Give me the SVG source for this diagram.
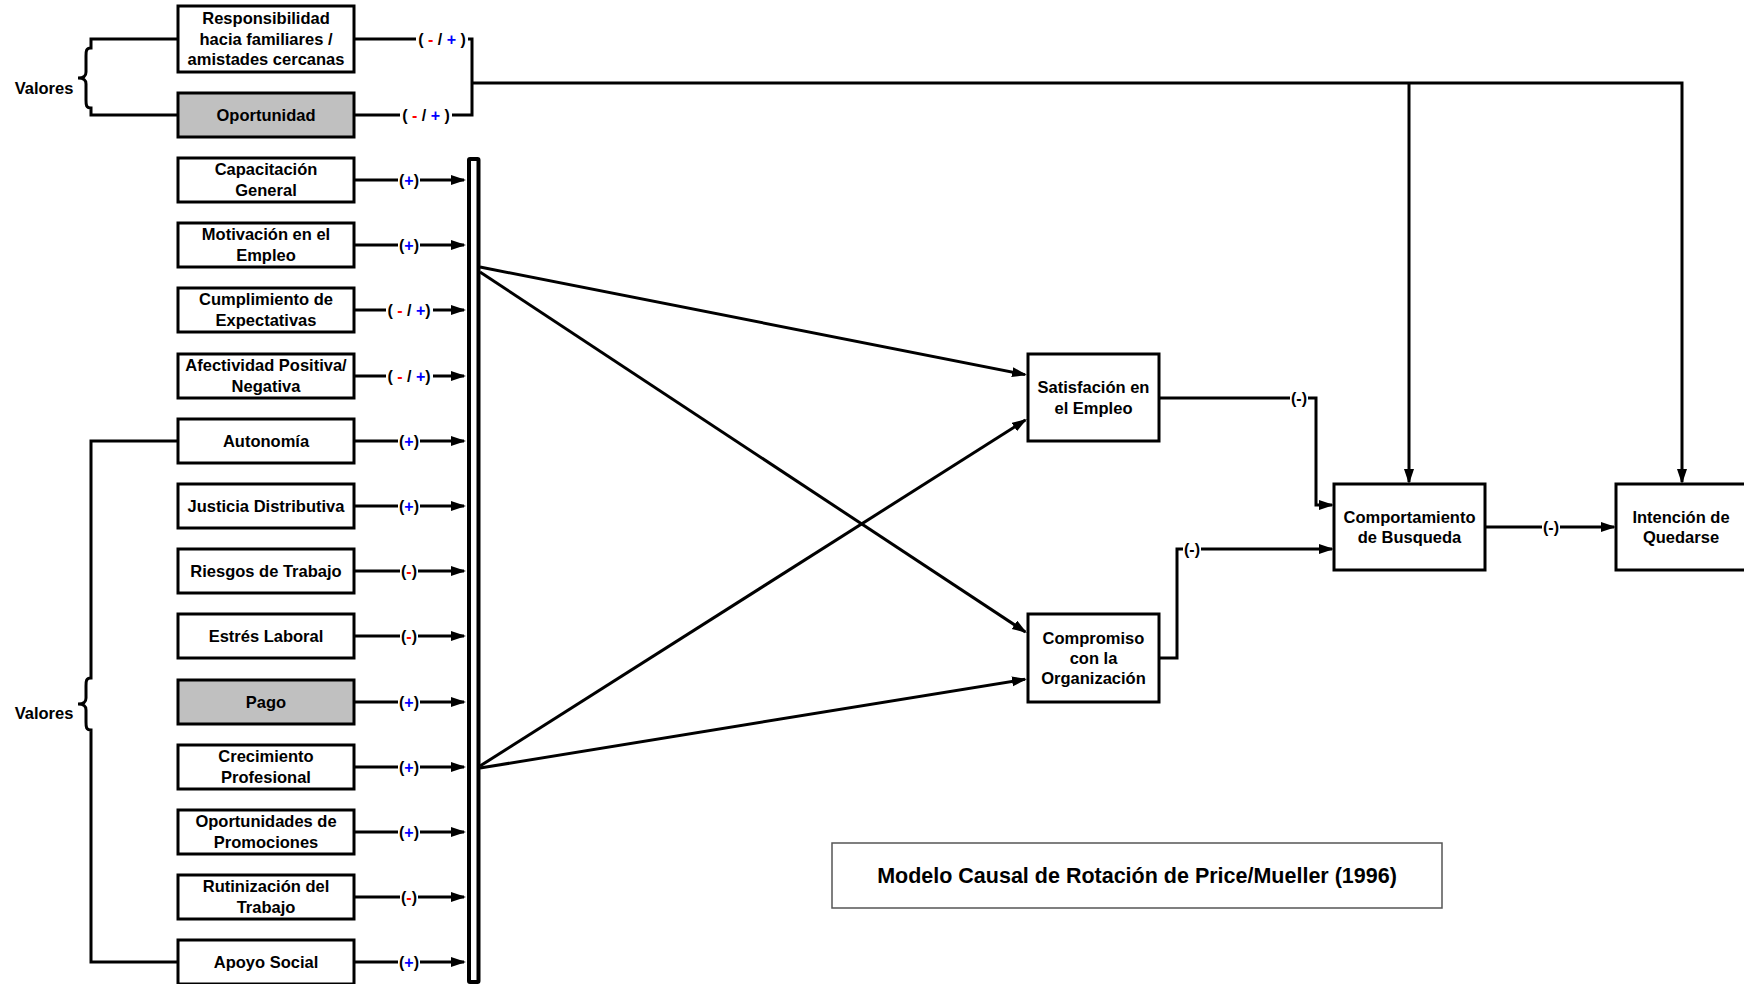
<svg xmlns="http://www.w3.org/2000/svg" width="1744" height="984" viewBox="0 0 1744 984">
  <style>
    .box { fill: #ffffff; stroke: #000000; stroke-width: 3; }
    .gray { fill: #c0c0c0; }
    .t { font-family: "Liberation Sans", Arial, sans-serif; font-weight: bold; font-size: 16.5px; text-anchor: middle; fill: #000000; }
    .lbl { font-size: 16px; }
    .pos { fill: #0000ff; }
    .neg { fill: #ff0000; }
    .ln { fill: none; stroke: #000000; stroke-width: 3; stroke-linejoin: miter; }
    .arr { marker-end: url(#ah); }
    .bg { fill: #ffffff; }
    .title { font-family: "Liberation Sans", Arial, sans-serif; font-weight: bold; font-size: 21.5px; text-anchor: middle; fill: #000000; }
  </style>
  <defs>
    <marker id="ah" markerUnits="userSpaceOnUse" markerWidth="16" markerHeight="12" refX="13" refY="5" orient="auto">
      <path d="M0,0 L15,5 L0,10 z" fill="#000000"/>
    </marker>
  </defs>
  <rect width="1744" height="984" fill="#ffffff"/>

  <!-- connectors -->
  <g id="connectors">
    <!-- value braces -->
    <path class="ln" d="M178,39 H91 V48 C86,48 86,51 86,56 V72 C86,76 84,78 78,78 C84,78 86,80 86,84 V100 C86,105 86,108 91,108 V115 H178"/>
    <path class="ln" d="M178,441 H91 V678 C86,678 86,681 86,686 V698 C86,702 84,704 78,704 C84,704 86,706 86,710 V722 C86,727 86,730 91,730 V962 H178"/>

    <!-- top group into search behaviour and intention -->
    <path class="ln" d="M354,39 H472 V115 H354"/>
    <path class="ln" d="M472,83 H1682 V482" marker-end="url(#ah)"/>
    <path class="ln arr" d="M1409,83 V482"/>
    <rect class="bg" x="416" y="30" width="52" height="18"/>
    <text class="t lbl" x="442" y="45">( <tspan class="neg">-</tspan> / <tspan class="pos">+</tspan> )</text>
    <rect class="bg" x="400" y="106" width="52" height="18"/>
    <text class="t lbl" x="426" y="121">( <tspan class="neg">-</tspan> / <tspan class="pos">+</tspan> )</text>

    <!-- determinants into the bar -->
    <path class="ln arr" d="M354,180 H464"/>
    <path class="ln arr" d="M354,245 H464"/>
    <path class="ln arr" d="M354,310 H464"/>
    <path class="ln arr" d="M354,376 H464"/>
    <path class="ln arr" d="M354,441 H464"/>
    <path class="ln arr" d="M354,506 H464"/>
    <path class="ln arr" d="M354,571 H464"/>
    <path class="ln arr" d="M354,636 H464"/>
    <path class="ln arr" d="M354,702 H464"/>
    <path class="ln arr" d="M354,767 H464"/>
    <path class="ln arr" d="M354,832 H464"/>
    <path class="ln arr" d="M354,897 H464"/>
    <path class="ln arr" d="M354,962 H464"/>

    <rect class="bg" x="398" y="171" width="22" height="18"/>
    <text class="t lbl" x="409" y="186">(<tspan class="pos">+</tspan>)</text>
    <rect class="bg" x="398" y="236" width="22" height="18"/>
    <text class="t lbl" x="409" y="251">(<tspan class="pos">+</tspan>)</text>
    <rect class="bg" x="386" y="301" width="47" height="18"/>
    <text class="t lbl" x="409" y="316">( <tspan class="neg">-</tspan> / <tspan class="pos">+</tspan>)</text>
    <rect class="bg" x="386" y="367" width="47" height="18"/>
    <text class="t lbl" x="409" y="382">( <tspan class="neg">-</tspan> / <tspan class="pos">+</tspan>)</text>
    <rect class="bg" x="398" y="432" width="22" height="18"/>
    <text class="t lbl" x="409" y="447">(<tspan class="pos">+</tspan>)</text>
    <rect class="bg" x="398" y="497" width="22" height="18"/>
    <text class="t lbl" x="409" y="512">(<tspan class="pos">+</tspan>)</text>
    <rect class="bg" x="400" y="562" width="18" height="18"/>
    <text class="t lbl" x="409" y="577">(<tspan class="neg">-</tspan>)</text>
    <rect class="bg" x="400" y="627" width="18" height="18"/>
    <text class="t lbl" x="409" y="642">(<tspan class="neg">-</tspan>)</text>
    <rect class="bg" x="398" y="693" width="22" height="18"/>
    <text class="t lbl" x="409" y="708">(<tspan class="pos">+</tspan>)</text>
    <rect class="bg" x="398" y="758" width="22" height="18"/>
    <text class="t lbl" x="409" y="773">(<tspan class="pos">+</tspan>)</text>
    <rect class="bg" x="398" y="823" width="22" height="18"/>
    <text class="t lbl" x="409" y="838">(<tspan class="pos">+</tspan>)</text>
    <rect class="bg" x="400" y="888" width="18" height="18"/>
    <text class="t lbl" x="409" y="903">(<tspan class="neg">-</tspan>)</text>
    <rect class="bg" x="398" y="953" width="22" height="18"/>
    <text class="t lbl" x="409" y="968">(<tspan class="pos">+</tspan>)</text>

    <!-- bar out to satisfaction and commitment -->
    <path class="ln arr" d="M480,267 L1025,374.6"/>
    <path class="ln arr" d="M480,272 L1025.3,631.9"/>
    <path class="ln arr" d="M480,766 L1025.3,420.1"/>
    <path class="ln arr" d="M480,768 L1025,679.3"/>

    <!-- into search behaviour -->
    <path class="ln arr" d="M1159,398 H1316 V505 H1332"/>
    <rect class="bg" x="1290" y="389" width="18" height="18"/>
    <text class="t lbl" x="1299" y="404">(-)</text>
    <path class="ln arr" d="M1159,658 H1177 V549 H1332"/>
    <rect class="bg" x="1183" y="540" width="18" height="18"/>
    <text class="t lbl" x="1192" y="555">(-)</text>

    <!-- search behaviour to intention -->
    <path class="ln arr" d="M1485,527 H1614"/>
    <rect class="bg" x="1542" y="518" width="18" height="18"/>
    <text class="t lbl" x="1551" y="533">(-)</text>
  </g>

  <!-- collecting bar -->
  <g id="bar">
    <rect x="469" y="159" width="9.5" height="823" rx="1" fill="#ffffff" stroke="#000000" stroke-width="4"/>
  </g>

  <!-- value labels -->
  <g id="valores-top">
    <text class="t" x="44" y="94">Valores</text>
  </g>
  <g id="valores-bottom">
    <text class="t" x="44" y="719">Valores</text>
  </g>

  <!-- left-hand determinants -->
  <g id="responsabilidad">
    <rect class="box" x="178" y="6" width="176" height="66"/>
    <text class="t" x="266" y="24">Responsibilidad</text>
    <text class="t" x="266" y="44.5">hacia familiares /</text>
    <text class="t" x="266" y="65">amistades cercanas</text>
  </g>
  <g id="oportunidad">
    <rect class="box gray" x="178" y="93" width="176" height="44"/>
    <text class="t" x="266" y="121">Oportunidad</text>
  </g>
  <g id="capacitacion">
    <rect class="box" x="178" y="158" width="176" height="44"/>
    <text class="t" x="266" y="175">Capacitación</text>
    <text class="t" x="266" y="196">General</text>
  </g>
  <g id="motivacion">
    <rect class="box" x="178" y="223" width="176" height="44"/>
    <text class="t" x="266" y="240">Motivación en el</text>
    <text class="t" x="266" y="261">Empleo</text>
  </g>
  <g id="cumplimiento">
    <rect class="box" x="178" y="288" width="176" height="44"/>
    <text class="t" x="266" y="305">Cumplimiento de</text>
    <text class="t" x="266" y="326">Expectativas</text>
  </g>
  <g id="afectividad">
    <rect class="box" x="178" y="354" width="176" height="44"/>
    <text class="t" x="266" y="371">Afectividad Positiva/</text>
    <text class="t" x="266" y="392">Negativa</text>
  </g>
  <g id="autonomia">
    <rect class="box" x="178" y="419" width="176" height="44"/>
    <text class="t" x="266" y="447">Autonomía</text>
  </g>
  <g id="justicia">
    <rect class="box" x="178" y="484" width="176" height="44"/>
    <text class="t" x="266" y="512">Justicia Distributiva</text>
  </g>
  <g id="riesgos">
    <rect class="box" x="178" y="549" width="176" height="44"/>
    <text class="t" x="266" y="577">Riesgos de Trabajo</text>
  </g>
  <g id="estres">
    <rect class="box" x="178" y="614" width="176" height="44"/>
    <text class="t" x="266" y="642">Estrés Laboral</text>
  </g>
  <g id="pago">
    <rect class="box gray" x="178" y="680" width="176" height="44"/>
    <text class="t" x="266" y="708">Pago</text>
  </g>
  <g id="crecimiento">
    <rect class="box" x="178" y="745" width="176" height="44"/>
    <text class="t" x="266" y="762">Crecimiento</text>
    <text class="t" x="266" y="783">Profesional</text>
  </g>
  <g id="promociones">
    <rect class="box" x="178" y="810" width="176" height="44"/>
    <text class="t" x="266" y="827">Oportunidades de</text>
    <text class="t" x="266" y="848">Promociones</text>
  </g>
  <g id="rutinizacion">
    <rect class="box" x="178" y="875" width="176" height="44"/>
    <text class="t" x="266" y="892">Rutinización del</text>
    <text class="t" x="266" y="913">Trabajo</text>
  </g>
  <g id="apoyo">
    <rect class="box" x="178" y="940" width="176" height="44"/>
    <text class="t" x="266" y="968">Apoyo Social</text>
  </g>

  <!-- intermediate and outcome variables -->
  <g id="satisfaccion">
    <rect class="box" x="1028" y="354" width="131" height="87"/>
    <text class="t" x="1093.5" y="393">Satisfación en</text>
    <text class="t" x="1093.5" y="414">el Empleo</text>
  </g>
  <g id="compromiso">
    <rect class="box" x="1028" y="614" width="131" height="88"/>
    <text class="t" x="1093.5" y="644">Compromiso</text>
    <text class="t" x="1093.5" y="664">con la</text>
    <text class="t" x="1093.5" y="684">Organización</text>
  </g>
  <g id="comportamiento">
    <rect class="box" x="1334" y="484" width="151" height="86"/>
    <text class="t" x="1409.5" y="523">Comportamiento</text>
    <text class="t" x="1409.5" y="543">de Busqueda</text>
  </g>
  <g id="intencion">
    <rect class="box" x="1616" y="484" width="131" height="86"/>
    <text class="t" x="1681" y="523">Intención de</text>
    <text class="t" x="1681" y="543">Quedarse</text>
  </g>

  <!-- caption -->
  <g id="titulo">
    <rect x="832" y="843" width="610" height="65" fill="#ffffff" stroke="#555555" stroke-width="1.5"/>
    <text class="title" x="1137" y="883">Modelo Causal de Rotación de Price/Mueller (1996)</text>
  </g>
</svg>
